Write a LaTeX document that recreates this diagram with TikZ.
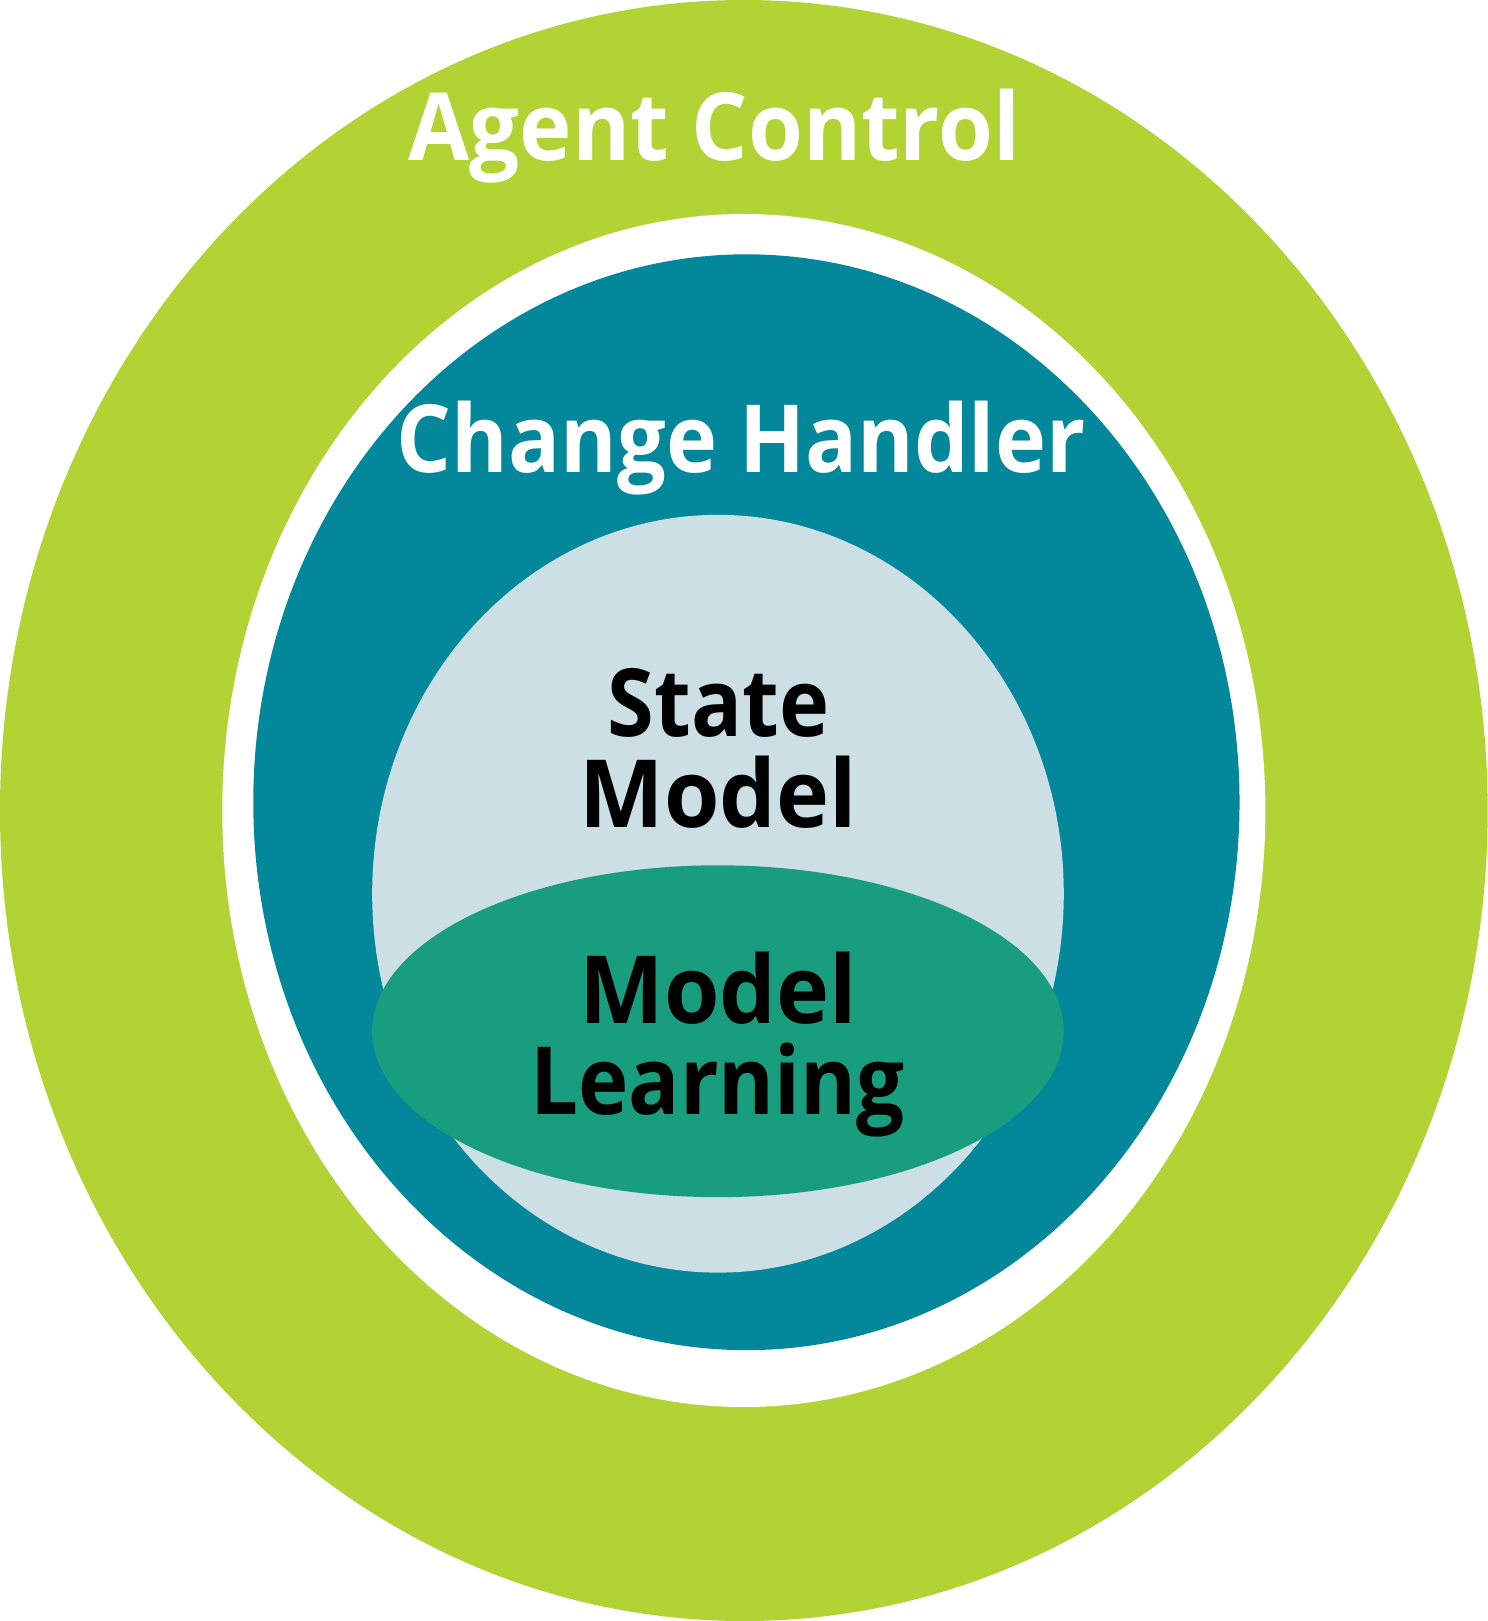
\documentclass[tikz,border=0pt]{standalone}
\usepackage{fontspec}
\usepackage{graphicx}
\setmainfont{Open Sans}[BoldFont={* Bold}]
\definecolor{limeg}{HTML}{B3D335}
\definecolor{tealc}{HTML}{03879A}
\definecolor{paleb}{HTML}{CBDFE5}
\definecolor{jadeg}{HTML}{199D7F}
\newcommand\fitw[2]{\resizebox{#1pt}{\height}{#2}}
\tikzset{
  lbl/.style={anchor=base, inner sep=0pt, font=\bfseries\fontsize{91}{100}\selectfont},
  wlbl/.style={lbl, text=white},
  klbl/.style={lbl, text=black}
}
\begin{document}
\begin{tikzpicture}[x=1pt,y=-1pt]
\useasboundingbox (0,0) rectangle (1439,1568);
\fill[limeg] (719.5,784) ellipse [x radius=719.5, y radius=784];
\fill[white] (719.5,784) ellipse [x radius=504.5, y radius=577];
\fill[tealc] (722,776) ellipse [x radius=477, y radius=530];
\fill[paleb] (694.5,864.5) ellipse [x radius=334.5, y radius=366.5];
\fill[jadeg] (694.5,997.5) ellipse [x radius=334.5, y radius=160.5];
\node[wlbl] (agent) at (691,155) {\fitw{592}{Agent Control}};
\node[wlbl] (change) at (717,457) {\fitw{666}{Change Handler}};
\node[klbl] (state) at (695,712) {\fitw{214}{State}};
\node[klbl] (model) at (695,800) {\fitw{268}{Model}};
\node[klbl] (model2) at (695,990) {\fitw{268}{Model}};
\node[klbl] (learn) at (694,1078) {\fitw{362}{Learning}};
\end{tikzpicture}
\end{document}
